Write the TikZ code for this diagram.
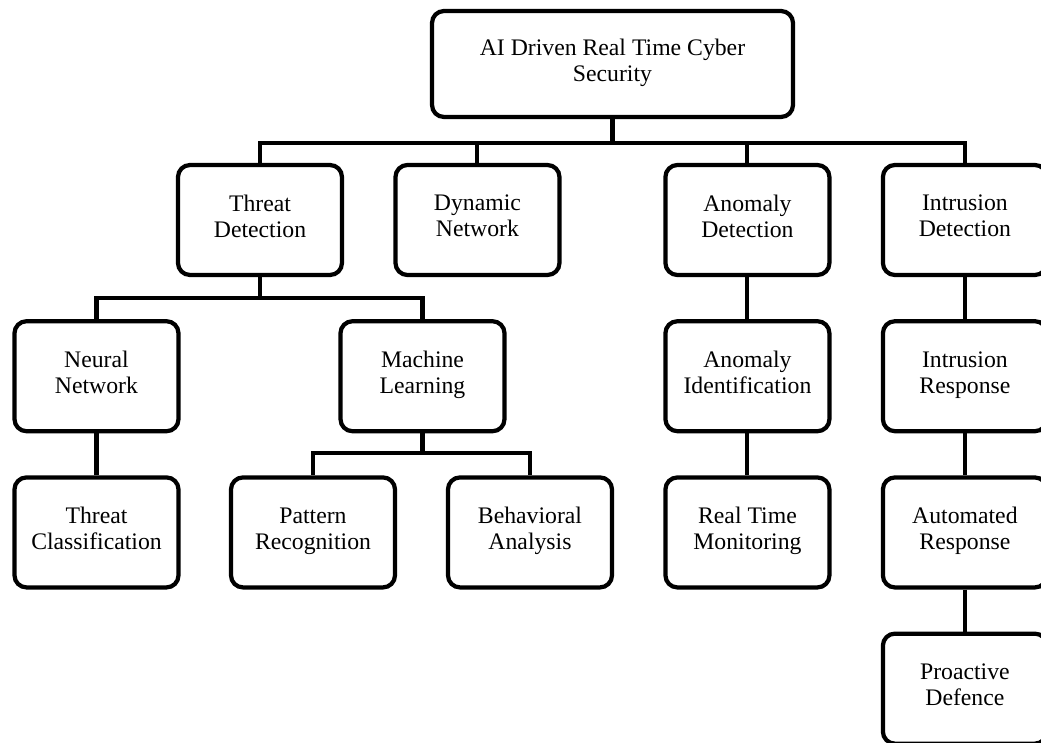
\documentclass[tikz,border=0pt]{standalone}
\usepackage{fontspec}
\setmainfont{Liberation Serif}
\usetikzlibrary{positioning}

\begin{document}
\begin{tikzpicture}[
				box/.style={rectangle, rounded corners=0.24cm, draw=black, line width=2.4pt, minimum width=3.28cm, minimum height=2.2cm, align=center, font=\fontsize{13.5}{14.8}\selectfont, execute at begin node=\strut, execute at end node=\strut},
				topbox/.style={box, minimum width=7.22cm, minimum height=2.12cm},
				node distance=0.84cm
			]
			\useasboundingbox (-12.25,1.28) rectangle (8.57,-13.56);
			\node[topbox] (root) {AI Driven Real Time Cyber\\Security};
			\node[box] (threat) at (-7.05,-3.12) {Threat\\Detection};
			\node[box] (dynamic) [right=0.985cm of threat] {Dynamic\\Network};
			\node[box] (anomaly) [right=2.035cm of dynamic] {Anomaly\\Detection};
			\node[box] (intrusion) [right=0.985cm of anomaly] {Intrusion\\Detection};
			\node[box] (neural) [below=of threat, xshift=-3.27cm] {Neural\\Network};
			\node[box] (machine) [below=of threat, xshift=3.25cm] {Machine\\Learning};
			\node[box] (classify) [below=of neural] {Threat\\Classification};
			\node[box] (pattern) [below=of machine, xshift=-2.19cm] {Pattern\\Recognition};
			\node[box] (behavior) [below=of machine, xshift=2.15cm] {Behavioral\\Analysis};
			\node[box] (anomalyid) [below=of anomaly] {Anomaly\\Identification};
			\node[box] (monitor) [below=of anomalyid] {Real Time\\Monitoring};
			\node[box] (response) [below=of intrusion] {Intrusion\\Response};
			\node[box] (automated) [below=of response] {Automated\\Response};
			\node[box] (proactive) [below=of automated] {Proactive\\Defence};
			\begin{scope}[line width=2.3pt]
			\draw (root.south) -- ++(0,-0.48) -| (threat.north);
			\draw (root.south) -- ++(0,-0.48) -| (dynamic.north);
			\draw (root.south) -- ++(0,-0.48) -| (anomaly.north);
			\draw (root.south) -- ++(0,-0.48) -| (intrusion.north);
			\draw (threat.south) -- ++(0,-0.42) -| (neural.north);
			\draw (threat.south) -- ++(0,-0.42) -| (machine.north);
			\draw (machine.south) -- ++(0,-0.4) -| (pattern.north);
			\draw (machine.south) -- ++(0,-0.4) -| (behavior.north);
			\draw (neural.south) -- (classify.north);
			\draw (anomaly.south) -- (anomalyid.north);
			\draw (anomalyid.south) -- (monitor.north);
			\draw (intrusion.south) -- (response.north);
			\draw (response.south) -- (automated.north);
			\draw (automated.south) -- (proactive.north);
			\end{scope}
			\end{tikzpicture}
\end{document}
